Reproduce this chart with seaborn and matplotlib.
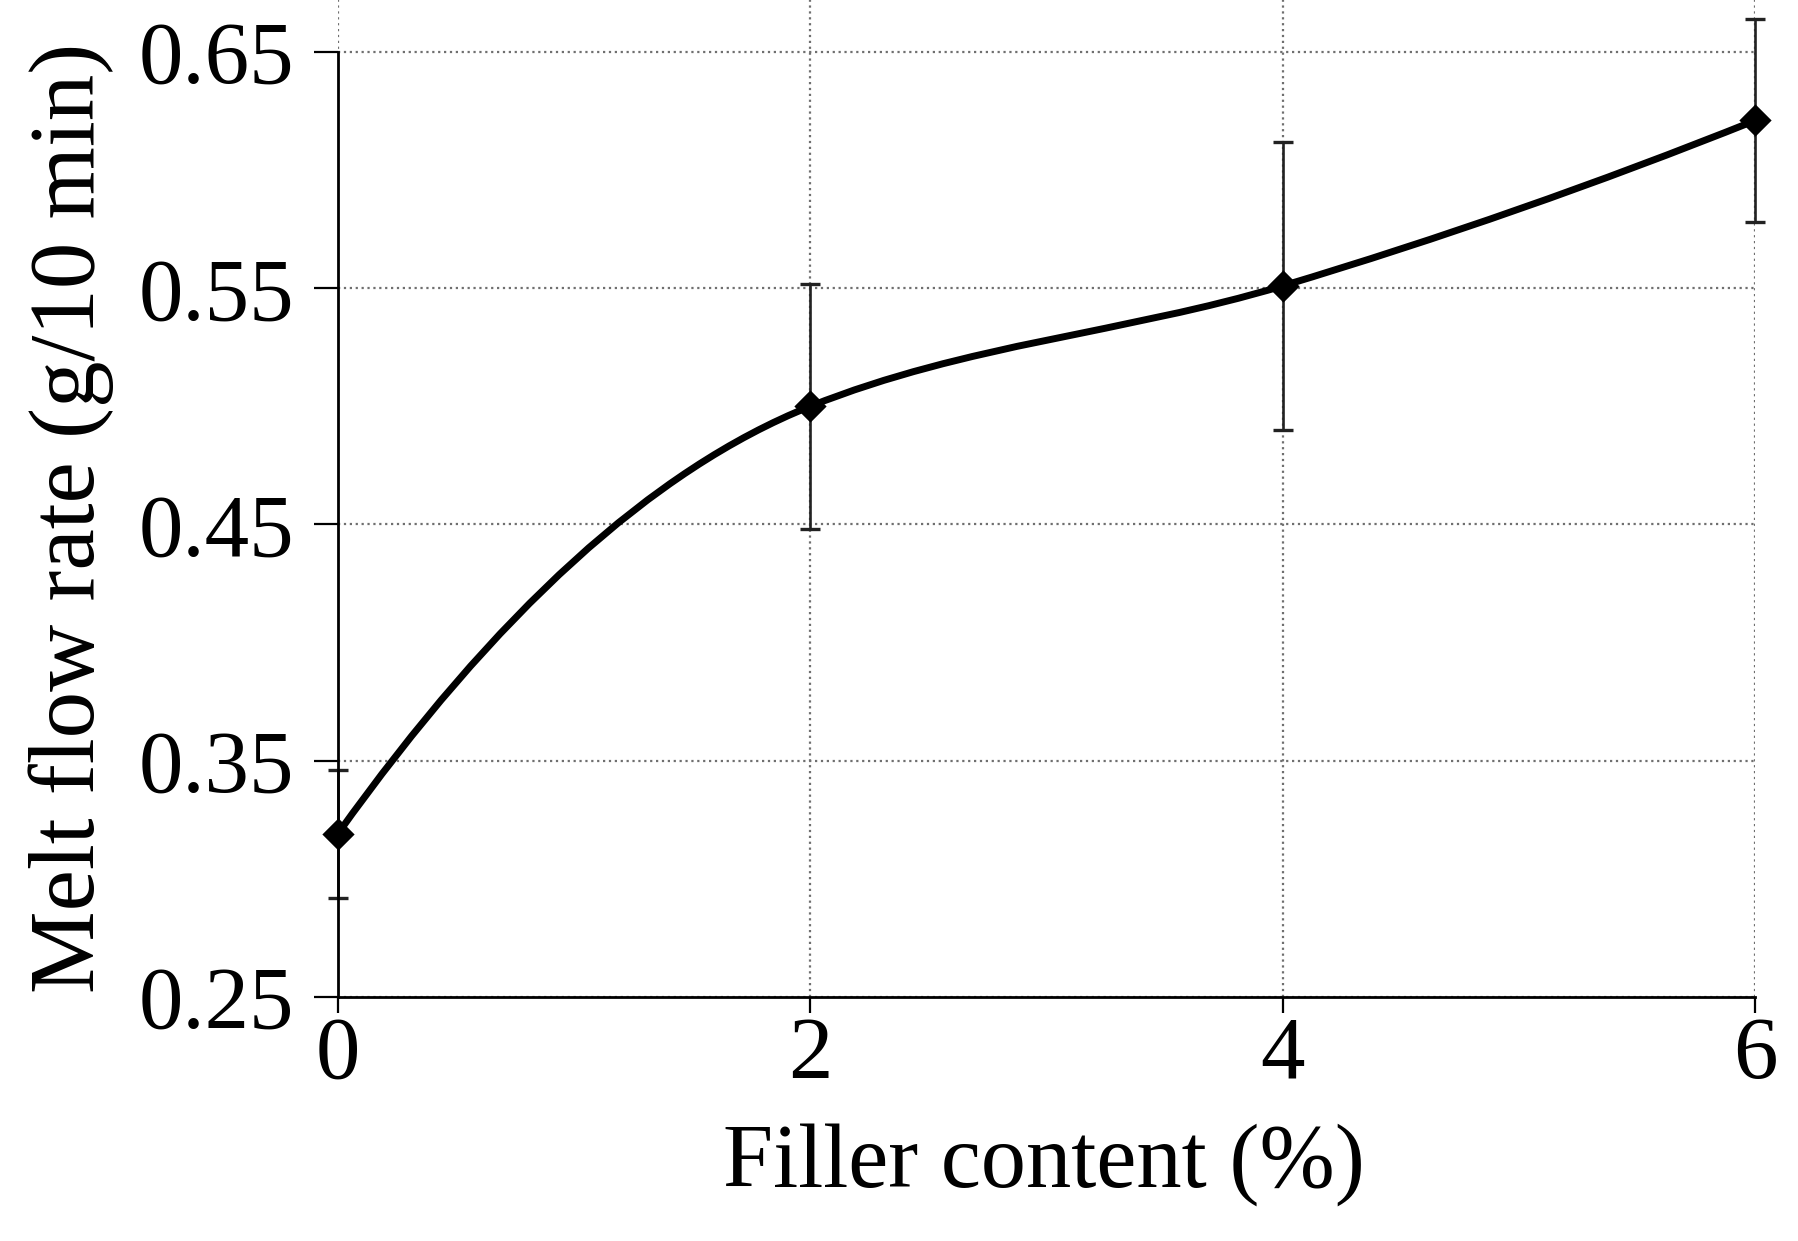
import numpy as np
import pandas as pd
import matplotlib.pyplot as plt
import seaborn as sns
from matplotlib.path import Path
from matplotlib.patches import PathPatch

# data
filler = [0, 2, 4, 6]
mfr = [0.319, 0.500, 0.551, 0.621]
mfr_err = [0.027, 0.052, 0.061, 0.043]
# slope of the smoothed line at each point (from the picture)
slopes = [0.14, 0.04, 0.03, 0.04]

xticks = [0, 2, 4, 6]
yticks = [0.25, 0.35, 0.45, 0.55, 0.65]
ytick_labels = ["0.25", "0.35", "0.45", "0.55", "0.65"]

df = pd.DataFrame({"filler": filler, "mfr": mfr, "err": mfr_err})

sns.set_theme(style="white")
plt.rcParams["font.family"] = ["Liberation Serif", "DejaVu Serif"]

fig = plt.figure(figsize=(17.99, 12.41), dpi=100)
ax = fig.add_axes([0.1877, 0.1966, 0.7879, 0.8034])

# error bars
eb = ax.errorbar(df["filler"], df["mfr"], yerr=df["err"], fmt="none",
                 ecolor="#222222", elinewidth=1.9, capsize=7, capthick=2.4,
                 zorder=2)
for art in list(eb.lines[1]) + list(eb.lines[2]):
    art.set_clip_on(False)

# smoothed line, built as cubic bezier segments between the points
verts = [(filler[0], mfr[0])]
codes = [Path.MOVETO]
for i in range(len(filler) - 1):
    h = (filler[i + 1] - filler[i]) / 3
    verts += [(filler[i] + h, mfr[i] + slopes[i] * h),
              (filler[i + 1] - h, mfr[i + 1] - slopes[i + 1] * h),
              (filler[i + 1], mfr[i + 1])]
    codes += [Path.CURVE4] * 3
ax.add_patch(PathPatch(Path(verts, codes), facecolor="none", edgecolor="black",
                       lw=5, zorder=3, clip_on=False))

# diamond markers
sns.scatterplot(data=df, x="filler", y="mfr", marker="D", s=270, color="black",
                edgecolor="black", linewidth=0, zorder=4, clip_on=False, ax=ax)

ax.set_xlim(0, 6)
ax.set_ylim(0.25, 0.672)
ax.set_xticks(xticks)
ax.set_yticks(yticks)
ax.set_yticklabels(ytick_labels)

ax.grid(True, linestyle=":", color="#6f6f6f", linewidth=1.6)
ax.set_axisbelow(True)

for side in ["top", "right"]:
    ax.spines[side].set_visible(False)
for side in ["left", "bottom"]:
    ax.spines[side].set_color("black")
    ax.spines[side].set_linewidth(2)
ax.spines["left"].set_bounds(0.25, 0.65)

ax.tick_params(axis="y", direction="out", length=17, width=1.6, color="black",
               labelcolor="black", pad=14, labelsize=64, left=True)
ax.tick_params(axis="x", direction="out", length=11.5, width=1.6, color="black",
               labelcolor="black", pad=2, labelsize=64, bottom=True)

ax.set_xlabel("Filler content (%)", fontsize=65, color="black")
ax.set_ylabel("Melt flow rate (g/10 min)", fontsize=67, color="black")
ax.xaxis.set_label_coords(0.498, -0.126)
ax.yaxis.set_label_coords(-0.158, 0.481)

fig.savefig("out.png", dpi=100)
